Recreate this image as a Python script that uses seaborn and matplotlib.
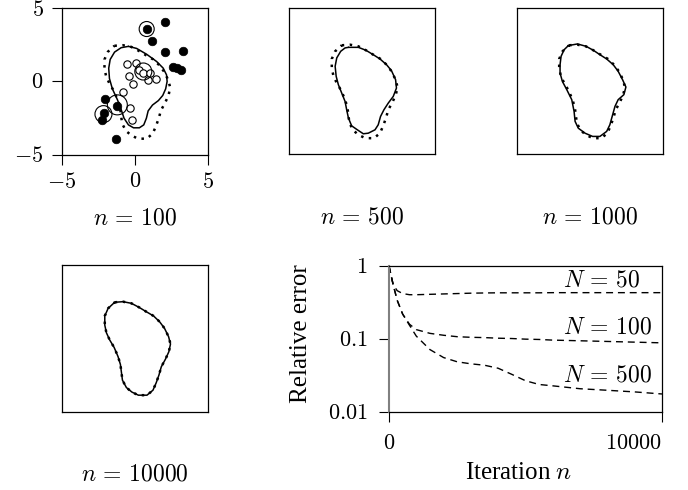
import matplotlib
matplotlib.use("Agg")
import matplotlib.pyplot as plt
import seaborn as sns

sns.set_theme(style="ticks")
plt.rcParams["font.family"] = ["Liberation Serif", "DejaVu Serif"]
plt.rcParams["mathtext.fontset"] = "cm"
plt.rcParams["axes.edgecolor"] = "black"
plt.rcParams["xtick.color"] = "black"
plt.rcParams["ytick.color"] = "black"
plt.rcParams["text.color"] = "black"
plt.rcParams["axes.labelcolor"] = "black"

# true boundary (dotted) - same in every panel
true_x = [-1.41, -0.84, -0.27, 0.25, 0.75, 1.25, 1.66, 2.00, 2.28, 2.41, 2.30, 2.07, 1.78, 1.62, 1.43,
          1.21, 0.80, 0.21, -0.23, -0.61, -0.88, -0.95, -1.02, -1.18, -1.45, -1.75, -1.98, -2.09, -2.09, -1.86]
true_y = [2.43, 2.47, 2.36, 2.09, 1.79, 1.50, 1.11, 0.66, 0.09, -0.41, -0.93, -1.43, -1.96, -2.52, -3.05,
          -3.55, -3.89, -3.89, -3.68, -3.37, -2.87, -2.34, -1.80, -1.27, -0.64, -0.14, 0.36, 0.88, 1.50, 2.02]

# estimated boundary (solid) after n samples
est100_x = [-0.45, 0.11, 0.80, 1.48, 1.93, 2.16, 2.20, 2.10, 1.90, 1.60, 1.20, 0.90, 0.78, 0.60, 0.30,
            -0.10, -0.45, -0.75, -0.95, -1.20, -1.55, -1.75, -1.80, -1.70, -1.40, -0.95]
est100_y = [2.39, 2.25, 1.85, 1.36, 0.91, 0.45, 0.00, -0.50, -0.95, -1.30, -1.60, -2.00, -2.50, -2.95, -3.15,
            -3.15, -2.95, -2.50, -1.90, -1.25, -0.50, 0.20, 0.90, 1.50, 2.00, 2.30]

est500_x = [-0.95, -0.27, 0.25, 0.75, 1.21, 1.66, 2.00, 2.28, 2.34, 2.12, 1.78, 1.48, 1.25, 1.09, 0.87,
            0.41, 0.07, -0.34, -0.73, -0.95, -1.07, -1.18, -1.41, -1.64, -1.79, -1.86, -1.75, -1.48, -1.18]
est500_y = [2.29, 2.29, 2.09, 1.79, 1.50, 1.11, 0.70, 0.09, -0.48, -1.05, -1.50, -1.96, -2.41, -2.98, -3.32,
            -3.55, -3.59, -3.32, -3.05, -2.52, -1.96, -1.39, -0.82, -0.25, 0.32, 1.00, 1.57, 2.02, 2.25]

est1000_x = [-1.46, -0.84, -0.25, 0.25, 0.70, 1.16, 1.61, 1.95, 2.25, 2.48, 2.34, 1.95, 1.73, 1.57, 1.38,
             1.16, 0.70, 0.20, -0.32, -0.78, -1.00, -1.07, -1.23, -1.57, -1.87, -2.03, -2.03, -1.96, -1.75]
est1000_y = [2.41, 2.52, 2.36, 2.09, 1.79, 1.50, 1.11, 0.66, 0.09, -0.41, -0.93, -1.27, -1.73, -2.30, -2.98,
             -3.43, -3.77, -3.77, -3.55, -3.21, -2.75, -2.07, -1.27, -0.59, -0.03, 0.54, 1.11, 1.68, 2.13]

# samples in the first panel
pos_x = [2.05, 0.80, 1.14, 2.05, 3.30, 2.57, 2.91, 3.18, -2.05, -1.25, -2.09, -2.27, -1.30]
pos_y = [4.02, 3.57, 2.77, 1.98, 2.05, 1.02, 0.91, 0.75, -1.18, -1.70, -2.16, -2.61, -3.91]
neg_x = [-0.52, 0.07, -0.41, 0.30, 0.57, 0.91, 1.41, 1.05, -0.16, -0.80, -0.34, -0.20]
neg_y = [1.18, 1.25, 0.39, 0.75, 0.61, 0.11, 0.20, 0.55, -0.16, -0.73, -1.77, -2.61]
ring_x = [0.80, 0.57, -1.21, -2.16]
ring_y = [3.57, 0.68, -1.59, -2.22]
ring_s = [117, 150, 207, 150]

# convergence of the relative error
iters = [0, 150, 300, 500, 750, 1000, 1500, 2000, 2500, 3000, 3500, 4000, 4500, 5000, 5500, 6000,
         7000, 8000, 9000, 10000]
err_50 = [1.0, 0.56, 0.46, 0.42, 0.405, 0.405, 0.41, 0.415, 0.42, 0.425, 0.428, 0.43, 0.43, 0.43,
          0.43, 0.432, 0.432, 0.432, 0.432, 0.432]
err_100 = [1.0, 0.56, 0.34, 0.22, 0.16, 0.135, 0.12, 0.113, 0.108, 0.106, 0.105, 0.103, 0.102, 0.10,
           0.099, 0.097, 0.095, 0.093, 0.091, 0.089]
err_500 = [1.0, 0.56, 0.34, 0.22, 0.155, 0.11, 0.072, 0.056, 0.049, 0.046, 0.044, 0.040, 0.033, 0.027,
           0.024, 0.023, 0.021, 0.020, 0.019, 0.0178]
curve_names = [r"$N\,=\,50$", r"$N\,=\,100$", r"$N\,=\,500$"]
label_y = [0.52, 0.12, 0.026]

panel_labels = [r"$n\,=\,100$", r"$n\,=\,500$", r"$n\,=\,1000$", r"$n\,=\,10000$"]


def closed(xs, ys):
    return xs + xs[:1], ys + ys[:1]


def draw_shape(ax, est_x, est_y):
    tx, ty = closed(true_x, true_y)
    ex, ey = closed(est_x, est_y)
    sns.lineplot(x=tx, y=ty, sort=False, estimator=None, ax=ax, color="black",
                 lw=1.8, linestyle=(0, (1, 2.2)))
    sns.lineplot(x=ex, y=ey, sort=False, estimator=None, ax=ax, color="black", lw=1.1)
    ax.set_xlim(-5, 5)
    ax.set_ylim(-5, 5)


fig = plt.figure(figsize=(6.88, 4.90), dpi=100)
w, h = 146 / 688, 147 / 490
ax1 = fig.add_axes([62 / 688, 1 - 155 / 490, w, h])
ax2 = fig.add_axes([289.3 / 688, 1 - 154.5 / 490, w, h])
ax3 = fig.add_axes([516.7 / 688, 1 - 154.5 / 490, w, h])
ax4 = fig.add_axes([62.3 / 688, 1 - 411.5 / 490, w, h])
ax5 = fig.add_axes([389 / 688, 1 - 412.3 / 490, 273 / 688, 146.3 / 490])

draw_shape(ax1, est100_x, est100_y)
draw_shape(ax2, est500_x, est500_y)
draw_shape(ax3, est1000_x, est1000_y)
draw_shape(ax4, true_x, true_y)

sns.scatterplot(x=neg_x, y=neg_y, ax=ax1, color="white", edgecolor="black", linewidth=0.8,
                s=28, zorder=3, legend=False)
sns.scatterplot(x=pos_x, y=pos_y, ax=ax1, color="black", edgecolor="black", linewidth=0.5,
                s=38, zorder=4, legend=False)
ax1.scatter(ring_x, ring_y, s=ring_s, facecolors="none", edgecolors="black", linewidths=0.8, zorder=5)

ax1.set_xticks([-5, 0, 5], ["$-5$", "$0$", "$5$"])
ax1.set_yticks([-5, 0, 5], ["$-5$", "$0$", "$5$"])
ax1.tick_params(direction="out", length=7.2, width=0.8, labelsize=16, pad=6,
                top=False, right=False)
for ax in (ax2, ax3, ax4):
    ax.set_xticks([])
    ax.set_yticks([])

for ax, lab in zip((ax1, ax2, ax3, ax4), panel_labels):
    ax.set_xlabel(lab, fontsize=17)
    ax.xaxis.set_label_coords(0.5, -0.47)
    ax.xaxis.label.set_va("baseline")
    for sp in ax.spines.values():
        sp.set_linewidth(0.9)
        sp.set_visible(True)

# convergence panel
for errs in (err_50, err_100, err_500):
    sns.lineplot(x=iters, y=errs, ax=ax5, color="black", lw=1.0, linestyle=(0, (5, 3.5)))
ax5.set_yscale("log")
ax5.set_xlim(0, 10000)
ax5.set_ylim(0.01, 1)
ax5.set_yticks([1, 0.1, 0.01], ["$1$", "$0.1$", "$0.01$"])
ax5.set_xticks([0, 10000], ["$0$", "$10000$"])
ax5.get_xticklabels()[1].set_ha("right")
ax5.minorticks_off()
ax5.tick_params(direction="out", length=7.2, width=0.8, labelsize=16,
                top=False, right=False)
ax5.tick_params(axis="y", pad=8)
ax5.tick_params(axis="x", pad=9)
for sp in ax5.spines.values():
    sp.set_linewidth(0.9)
    sp.set_visible(True)
ax5.spines["left"].set_color("#808080")
ax5.spines["left"].set_linewidth(1.5)
for name, yy in zip(curve_names, label_y):
    ax5.text(6385, yy, name, fontsize=17, ha="left", va="baseline")
ax5.set_xlabel("Iteration $n$", fontsize=18)
ax5.xaxis.set_label_coords(0.475, -0.458)
ax5.xaxis.label.set_va("baseline")
ax5.set_ylabel("Relative error", fontsize=18)
ax5.yaxis.set_label_coords(-0.30, 0.54)
ax5.yaxis.label.set_va("baseline")

fig.savefig("out.png", dpi=100)
